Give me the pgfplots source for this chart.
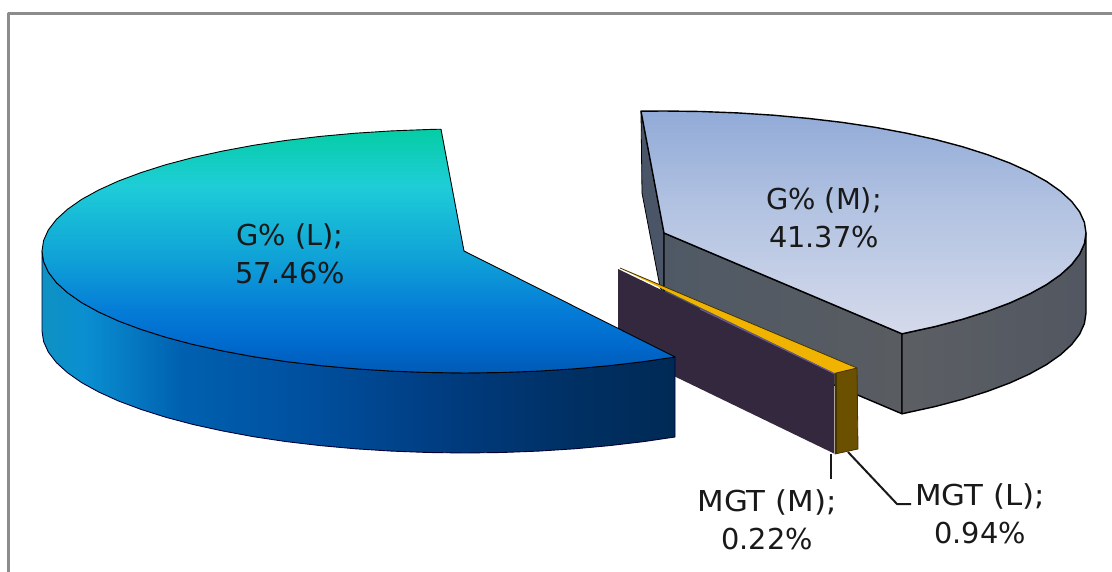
\documentclass[border=0pt]{standalone}
\usepackage{fontspec}
\setmainfont{DejaVu Sans}
\newfontfamily\widefont[FakeStretch=1.07]{DejaVu Sans}
\usepackage{pgfplots}
\pgfplotsset{compat=1.18}

% Top faces: colour runs from the back rim of the disc to the front rim
\pgfdeclareverticalshading{topL}{100bp}{
  rgb(0bp)=(0,0.353,0.706);
  rgb(25bp)=(0,0.353,0.706);
  rgb(30.7bp)=(0,0.412,0.804);
  rgb(38bp)=(0.02,0.49,0.843);
  rgb(48bp)=(0.059,0.627,0.843);
  rgb(63.5bp)=(0.118,0.804,0.843);
  rgb(75bp)=(0.02,0.804,0.647);
  rgb(100bp)=(0.02,0.804,0.647)}
\pgfdeclareverticalshading{topM}{100bp}{
  rgb(0bp)=(0.835,0.855,0.922);
  rgb(25bp)=(0.835,0.855,0.922);
  rgb(55bp)=(0.69,0.757,0.882);
  rgb(75bp)=(0.569,0.667,0.843);
  rgb(100bp)=(0.569,0.667,0.843)}
% Rim of the large slice, bright at the far left, deep navy at the cut
\pgfdeclarehorizontalshading{rimL}{100bp}{
  rgb(0bp)=(0.06,0.57,0.76);
  rgb(25bp)=(0.06,0.57,0.76);
  rgb(28.4bp)=(0.04,0.56,0.82);
  rgb(35.9bp)=(0,0.38,0.69);
  rgb(46.3bp)=(0,0.31,0.62);
  rgb(56.9bp)=(0,0.235,0.5);
  rgb(67.5bp)=(0,0.185,0.385);
  rgb(75bp)=(0,0.165,0.335);
  rgb(100bp)=(0,0.165,0.335)}
\pgfdeclarehorizontalshading{cutM}{100bp}{
  rgb(0bp)=(0.31,0.35,0.40);
  rgb(25bp)=(0.31,0.35,0.40);
  rgb(75bp)=(0.35,0.36,0.38);
  rgb(100bp)=(0.35,0.36,0.38)}
\pgfdeclarehorizontalshading{rimM}{100bp}{
  rgb(0bp)=(0.36,0.37,0.39);
  rgb(25bp)=(0.36,0.37,0.39);
  rgb(75bp)=(0.32,0.34,0.38);
  rgb(100bp)=(0.32,0.34,0.38)}

\definecolor{frameGrey}{RGB}{140,140,140}
\definecolor{wedgeM}{RGB}{74,85,104}
\definecolor{slabM}{RGB}{52,40,63}
\definecolor{slabEdge}{RGB}{109,90,148}
\definecolor{goldTop}{RGB}{240,180,0}
\definecolor{goldFace}{RGB}{107,80,0}
\definecolor{goldLine}{RGB}{70,52,0}

\tikzset{lbl/.style={font=\fontsize{28.8}{38}\selectfont, align=center, text=black!90, inner sep=0pt}}

\begin{document}
\begin{tikzpicture}
\path[use as bounding box] (0,0) rectangle (1112pt,572pt);
\begin{axis}[
  at={(0,0)}, anchor=south west,
  scale only axis, width=1112pt, height=572pt,
  xmin=0, xmax=1112, ymin=0, ymax=572, y dir=reverse,
  hide axis,
  every axis plot/.append style={line join=round}
]
% outer frame
\addplot[draw=frameGrey, line width=3pt] coordinates {(8,572) (8,14) (1112,14)};

% --- G% (M) slice -------------------------------------------------
% wedge seen behind the cut
\addplot[fill=wedgeM, draw=black, line width=0.8pt] coordinates {
  (641,111.2) (664,233) (664,295) (660,287) (642,193)} --cycle;
% cut face
\addplot[shade, shading=cutM, draw=black, line width=1.4pt] coordinates {
  (664,233) (902,333.8) (902,413.8) (664,313)} --cycle;
% curved rim
\addplot[shade, shading=rimM, draw=black, line width=1.4pt] coordinates {
  (1086,233) (1084.4,243.6) (1079.6,254.2) (1071.6,264.6) (1060.6,274.7)
  (1046.5,284.6) (1029.5,294) (1009.7,303) (987.3,311.4) (962.4,319.3)
  (935.3,326.5) (906.1,332.9) (902,333.8)
  (902,413.8) (906.1,412.9) (935.3,406.5) (962.4,399.3) (987.3,391.4)
  (1009.7,383) (1029.5,374) (1046.5,364.6) (1060.6,354.7) (1071.6,344.6)
  (1079.6,334.2) (1084.4,323.6) (1086,313)} --cycle;
% top face
\addplot[shade, shading=topM, draw=black, line width=1.4pt] coordinates {
  (664,233) (641,111.2) (664,111) (700.8,111.5) (737.3,112.9) (773.2,115.2)
  (808.3,118.4) (842.3,122.4) (875,127.3) (906.1,133.1) (935.3,139.5)
  (962.4,146.7) (987.3,154.6) (1009.7,163) (1029.5,172) (1046.5,181.4)
  (1060.6,191.3) (1071.6,201.4) (1079.6,211.8) (1084.4,222.4) (1086,233)
  (1084.4,243.6) (1079.6,254.2) (1071.6,264.6) (1060.6,274.7) (1046.5,284.6)
  (1029.5,294) (1009.7,303) (987.3,311.4) (962.4,319.3) (935.3,326.5)
  (906.1,332.9) (902,333.8)} --cycle;

% --- MGT (L) slice, a thin sliver ----------------------------------
\addplot[fill=goldTop, draw=none] coordinates {
  (620,268) (857,368) (835,373.3)} --cycle;
\addplot[draw=goldLine, line width=0.8pt] coordinates {(620,268) (857,368)};
\addplot[fill=goldFace, draw=goldLine, line width=0.8pt] coordinates {
  (835,373.3) (857,368) (858,449) (835,454)} --cycle;
\addplot[draw=goldLine, line width=1.2pt] coordinates {(836,373.3) (836,454)};

% --- MGT (M) slice -------------------------------------------------
\addplot[fill=slabM, draw=none] coordinates {
  (618,269) (834,373.5) (834,453.5) (618,349)} --cycle;
\addplot[draw=slabEdge, line width=1pt] coordinates {(700,309) (834,373.5)};

% --- G% (L) slice --------------------------------------------------
% curved rim
\addplot[shade, shading=rimL, draw=black!80!blue, line width=0.9pt] coordinates {
  (42,251) (43.6,261.6) (48.4,272.2) (56.4,282.6) (67.5,292.7) (81.6,302.6)
  (98.7,312) (118.5,321) (141,329.4) (165.9,337.3) (193.1,344.5) (222.4,350.9)
  (253.5,356.7) (286.2,361.6) (320.3,365.6) (355.5,368.8) (391.5,371.1)
  (428.1,372.5) (465,373) (501.9,372.5) (538.5,371.1) (574.5,368.8)
  (609.7,365.6) (643.8,361.6) (675,357)
  (675,437) (643.8,441.6) (609.7,445.6) (574.5,448.8) (538.5,451.1)
  (501.9,452.5) (465,453) (428.1,452.5) (391.5,451.1) (355.5,448.8)
  (320.3,445.6) (286.2,441.6) (253.5,436.7) (222.4,430.9) (193.1,424.5)
  (165.9,417.3) (141,409.4) (118.5,401) (98.7,392) (81.6,382.6) (67.5,372.7)
  (56.4,362.6) (48.4,352.2) (43.6,341.6) (42,331)} --cycle;
% top face
\addplot[shade, shading=topL, draw=black, line width=0.9pt] coordinates {
  (464,251) (441,129.2) (428.1,129.5) (391.5,130.9) (355.5,133.2) (320.3,136.4)
  (286.2,140.4) (253.5,145.3) (222.4,151.1) (193.1,157.5) (165.9,164.7)
  (141,172.6) (118.5,181) (98.7,190) (81.6,199.4) (67.5,209.3) (56.4,219.4)
  (48.4,229.8) (43.6,240.4) (42,251) (43.6,261.6) (48.4,272.2) (56.4,282.6)
  (67.5,292.7) (81.6,302.6) (98.7,312) (118.5,321) (141,329.4) (165.9,337.3)
  (193.1,344.5) (222.4,350.9) (253.5,356.7) (286.2,361.6) (320.3,365.6)
  (355.5,368.8) (391.5,371.1) (428.1,372.5) (465,373) (501.9,372.5)
  (538.5,371.1) (574.5,368.8) (609.7,365.6) (643.8,361.6) (675,357)} --cycle;

% leader lines of the two small slices
\addplot[draw=black!90, line width=2pt] coordinates {(831,454) (831,479)};
\addplot[draw=black!90, line width=2pt] coordinates {(848,452) (897,504) (911,504)};

% slice labels
\node[lbl] at (axis cs:290,254) {G\% (L);\\57.46\%};
\node[lbl] at (axis cs:824,218) {G\% (M);\\41.37\%};
\node[lbl] at (axis cs:767,520) {\widefont MGT (M);\\0.22\%};
\node[lbl] at (axis cs:980,514) {\widefont MGT (L);\\0.94\%};
\end{axis}
\end{tikzpicture}
\end{document}
